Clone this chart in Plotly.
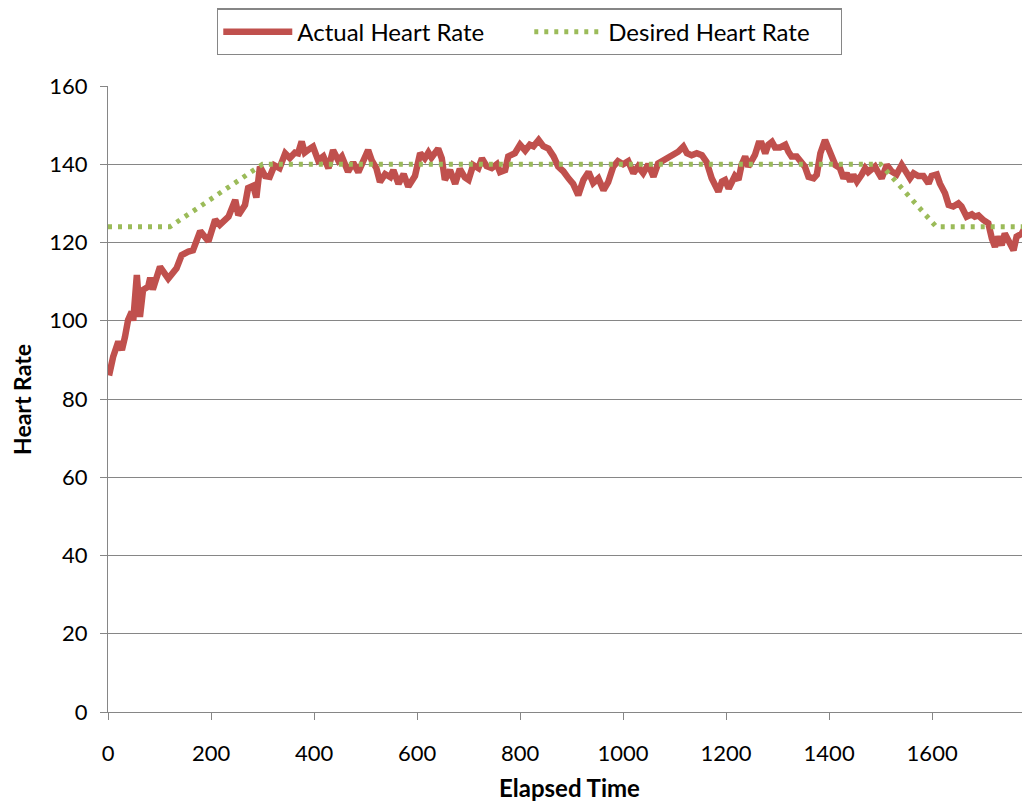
import plotly.graph_objects as go

# Actual heart rate (elapsed time, bpm)
actual_time = [2, 10, 20, 27, 33, 39, 46, 49, 56, 62, 68, 78, 82, 87, 101, 117, 133, 143, 156, 165,
               179, 195, 208, 217, 234, 247, 253, 266, 272, 282, 288, 295, 305, 314, 323, 333, 344, 353, 363, 369,
               376, 382, 392, 398, 408, 418, 428, 437, 447, 454, 466, 476, 486, 496, 505, 512, 521, 528, 538, 548,
               554, 564, 574, 583, 596, 606, 615, 622, 628, 641, 648, 654, 664, 674, 683, 693, 700, 709, 719, 726,
               735, 745, 755, 761, 771, 777, 790, 800, 810, 819, 826, 836, 845, 855, 865, 874, 884, 894, 903, 913,
               923, 933, 942, 952, 962, 971, 981, 990, 1000, 1010, 1020, 1029, 1039, 1049, 1059, 1068, 1078, 1088, 1098, 1107,
               1117, 1124, 1133, 1143, 1153, 1162, 1172, 1179, 1185, 1192, 1198, 1205, 1211, 1217, 1224, 1230, 1237, 1243, 1250, 1256,
               1263, 1269, 1276, 1282, 1289, 1295, 1305, 1315, 1321, 1327, 1337, 1344, 1353, 1360, 1370, 1376, 1383, 1392, 1399, 1405,
               1412, 1421, 1428, 1434, 1441, 1447, 1454, 1463, 1470, 1476, 1480, 1489, 1496, 1502, 1512, 1521, 1531, 1541, 1551, 1557,
               1564, 1573, 1583, 1593, 1599, 1609, 1615, 1625, 1632, 1641, 1651, 1657, 1667, 1677, 1683, 1690, 1699, 1709, 1716, 1722,
               1728, 1735, 1741, 1748, 1758, 1764, 1774, 1781, 1787]
actual_hr = [86, 90.8, 94.7, 92.5, 95.9, 100.2, 102.3, 100, 111.7, 101, 107.9, 108.7, 111, 108, 113.8, 110.8, 113.4, 116.8, 117.7, 118,
             122.9, 120.3, 125.8, 124.5, 126.6, 130.9, 127, 129.6, 133.9, 134.5, 131.5, 139.4, 137, 136.8, 139.7, 139, 142.8, 141.6, 143, 142.8,
             145.8, 143, 144, 144.5, 141, 142, 139, 143.6, 141, 142, 138.1, 140.4, 138, 140.5, 143.6, 141, 139, 135.5, 137.5, 136.7,
             138.5, 135, 137.5, 134.3, 137, 142.8, 141.5, 143, 141.7, 144, 141.5, 136, 138.5, 135, 138.8, 136.6, 136, 139.8, 139, 141.5,
             139.5, 139, 140, 138, 138.5, 142, 142.8, 145, 143.5, 145, 144.6, 146.2, 144.6, 144, 142, 139.4, 138.2, 136.4, 135, 132.1,
             136, 138, 135.2, 136.4, 133.4, 135.4, 139.4, 140.8, 140, 140.8, 137.7, 139.4, 137.7, 140, 136.8, 140.2, 141, 142, 142.8, 143.2,
             144.5, 142.8, 142.3, 142.8, 142.3, 140.6, 136.4, 134.8, 133, 135.6, 136, 133.8, 135.6, 137, 136, 139.8, 142, 139.4, 141, 142.4,
             145.3, 145.3, 142.8, 145, 145.7, 144.3, 144.3, 145, 143.2, 142, 142, 140.6, 139.4, 136.8, 136.4, 137.3, 142.8, 146.2, 144, 142.8,
             139.8, 139, 136.4, 137.7, 135.6, 137.3, 135.6, 137.3, 139, 138, 138.5, 139.4, 137.7, 136.4, 139.8, 138.2, 137.4, 139.8, 137.7, 136.4,
             137.7, 137, 137, 135.1, 137, 137.4, 135.1, 132.6, 129.6, 129.2, 130, 129.2, 126.6, 127.2, 126.6, 126.9, 125.8, 124.9, 121, 118.9,
             121.5, 119.3, 122.3, 120.6, 118, 121.5, 122.3, 124, 122]

# Desired heart rate profile
desired_time = [0, 120, 300, 1500, 1608, 1790]
desired_hr = [124, 124, 140, 140, 124, 124]

x_ticks = [0, 200, 400, 600, 800, 1000, 1200, 1400, 1600]
y_ticks = [0, 20, 40, 60, 80, 100, 120, 140, 160]

FONT = "Lato"
GRID = "#868686"

fig = go.Figure()
fig.add_trace(go.Scatter(x=actual_time, y=actual_hr, mode="lines", name="Actual Heart Rate",
                         line=dict(color="#C0504D", width=6.5)))
fig.add_trace(go.Scatter(x=desired_time, y=desired_hr, mode="lines", name="Desired Heart Rate",
                         line=dict(color="#9BBB59", width=5, dash="4px,6px")))

fig.update_layout(
    width=1022, height=793,
    margin=dict(l=100, r=0, t=78, b=89),
    paper_bgcolor="white", plot_bgcolor="white",
    font=dict(family=FONT, size=22, color="black"),
    showlegend=True,
    legend=dict(orientation="h", x=0.1182, xanchor="left", y=1.124, yanchor="top",
                bordercolor=GRID, borderwidth=1.3, bgcolor="white",
                font=dict(family=FONT, size=24), itemwidth=69, entrywidth=227,
                tracegroupgap=0),
    xaxis=dict(range=[0, 1790], tickvals=x_ticks, ticks="outside", ticklen=7, tickcolor=GRID,
               tickwidth=1.3, showgrid=False, showline=True, linecolor=GRID, linewidth=1.3,
               zeroline=False, tickfont=dict(size=22), ticklabelstandoff=14),
    yaxis=dict(range=[0, 160], tickvals=y_ticks, ticks="outside", ticklen=7, tickcolor=GRID,
               tickwidth=1.3, showgrid=True, gridcolor=GRID, gridwidth=1.3, showline=True,
               linecolor=GRID, linewidth=1.3, zeroline=False, tickfont=dict(size=22),
               ticklabelstandoff=8),
    annotations=[
        dict(text="<b>Elapsed Time</b>", xref="paper", yref="paper", x=0.5, y=-0.12,
             xanchor="center", yanchor="middle", showarrow=False, font=dict(size=24)),
        dict(text="<b>Heart Rate</b>", xref="paper", yref="paper", x=-0.0933, y=0.5,
             xanchor="center", yanchor="middle", textangle=-90, showarrow=False, font=dict(size=23)),
    ],
)

fig.write_html("out.html")
